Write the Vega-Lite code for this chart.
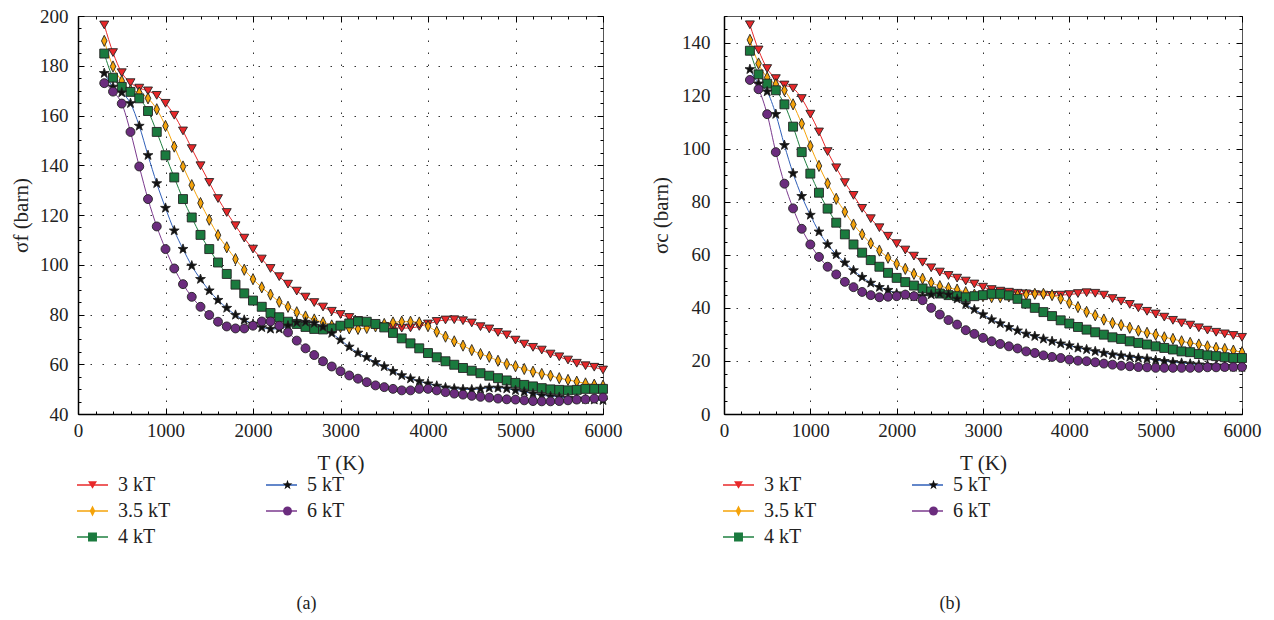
{
"$schema":"https://vega.github.io/schema/vega-lite/v6.json",
"padding":{"left":9,"top":6,"right":20,"bottom":5},
"background":"white",
"config":{"font":"Liberation Serif","view":{"stroke":"#555","strokeWidth":1},
"axis":{"labelFont":"Liberation Serif","titleFont":"Liberation Serif","labelFontSize":19,"titleFontSize":21,"titleFontWeight":"normal","labelColor":"#222","titleColor":"#222","tickColor":"#000","domainColor":"#000","domainWidth":1.5,"labelFlush":false,"labelOverlap":false,"gridColor":"#333","gridDash":[1.5,10.5],"gridWidth":1},
"legend":{"labelFont":"Liberation Serif","labelFontSize":20,"labelColor":"#222"}},
"bounds":"flush",
"spacing":121,
"resolve":{"scale":{"color":"independent","fill":"independent","shape":"independent"}},
"datasets":{
"a":[
{"s":"3 kT","T":300,"v":196.4},{"s":"3 kT","T":400,"v":185.3},{"s":"3 kT","T":500,"v":177.2},{"s":"3 kT","T":600,"v":173.2},{"s":"3 kT","T":700,"v":171},{"s":"3 kT","T":800,"v":169.9},{"s":"3 kT","T":900,"v":168.1},{"s":"3 kT","T":1000,"v":164.9},{"s":"3 kT","T":1100,"v":160.1},{"s":"3 kT","T":1200,"v":153.8},{"s":"3 kT","T":1300,"v":146.7},{"s":"3 kT","T":1400,"v":139.8},{"s":"3 kT","T":1500,"v":133.1},{"s":"3 kT","T":1600,"v":126.6},{"s":"3 kT","T":1700,"v":121},{"s":"3 kT","T":1800,"v":115.7},{"s":"3 kT","T":1900,"v":110.7},{"s":"3 kT","T":2000,"v":106.3},{"s":"3 kT","T":2100,"v":102.3},{"s":"3 kT","T":2200,"v":98.5},{"s":"3 kT","T":2300,"v":95.2},{"s":"3 kT","T":2400,"v":92.2},{"s":"3 kT","T":2500,"v":89.4},{"s":"3 kT","T":2600,"v":87},{"s":"3 kT","T":2700,"v":84.8},{"s":"3 kT","T":2800,"v":83},{"s":"3 kT","T":2900,"v":81.3},{"s":"3 kT","T":3000,"v":80},{"s":"3 kT","T":3100,"v":78.8},{"s":"3 kT","T":3200,"v":77.6},{"s":"3 kT","T":3300,"v":76.6},{"s":"3 kT","T":3400,"v":75.8},{"s":"3 kT","T":3500,"v":75.2},{"s":"3 kT","T":3600,"v":74.8},{"s":"3 kT","T":3700,"v":74.5},{"s":"3 kT","T":3800,"v":74.6},{"s":"3 kT","T":3900,"v":75.2},{"s":"3 kT","T":4000,"v":76.2},{"s":"3 kT","T":4100,"v":77.2},{"s":"3 kT","T":4200,"v":77.8},{"s":"3 kT","T":4300,"v":77.9},{"s":"3 kT","T":4400,"v":77.5},{"s":"3 kT","T":4500,"v":76.6},{"s":"3 kT","T":4600,"v":75.1},{"s":"3 kT","T":4700,"v":74.2},{"s":"3 kT","T":4800,"v":72.8},{"s":"3 kT","T":4900,"v":71.8},{"s":"3 kT","T":5000,"v":69.7},{"s":"3 kT","T":5100,"v":68.1},{"s":"3 kT","T":5200,"v":66.8},{"s":"3 kT","T":5300,"v":65.7},{"s":"3 kT","T":5400,"v":64.1},{"s":"3 kT","T":5500,"v":63},{"s":"3 kT","T":5600,"v":61.7},{"s":"3 kT","T":5700,"v":60.4},{"s":"3 kT","T":5800,"v":59.4},{"s":"3 kT","T":5900,"v":58.8},{"s":"3 kT","T":6000,"v":57.7},
{"s":"3.5 kT","T":300,"v":190},{"s":"3.5 kT","T":400,"v":179.7},{"s":"3.5 kT","T":500,"v":173.9},{"s":"3.5 kT","T":600,"v":170.1},{"s":"3.5 kT","T":700,"v":169.2},{"s":"3.5 kT","T":800,"v":166.9},{"s":"3.5 kT","T":900,"v":162.5},{"s":"3.5 kT","T":1000,"v":155.8},{"s":"3.5 kT","T":1100,"v":147.5},{"s":"3.5 kT","T":1200,"v":139.5},{"s":"3.5 kT","T":1300,"v":132},{"s":"3.5 kT","T":1400,"v":124.8},{"s":"3.5 kT","T":1500,"v":118.1},{"s":"3.5 kT","T":1600,"v":111.9},{"s":"3.5 kT","T":1700,"v":107},{"s":"3.5 kT","T":1800,"v":102.3},{"s":"3.5 kT","T":1900,"v":98},{"s":"3.5 kT","T":2000,"v":94.2},{"s":"3.5 kT","T":2100,"v":90.9},{"s":"3.5 kT","T":2200,"v":88},{"s":"3.5 kT","T":2300,"v":85.1},{"s":"3.5 kT","T":2400,"v":83.1},{"s":"3.5 kT","T":2500,"v":80.9},{"s":"3.5 kT","T":2600,"v":79.2},{"s":"3.5 kT","T":2700,"v":78},{"s":"3.5 kT","T":2800,"v":76.8},{"s":"3.5 kT","T":2900,"v":75.6},{"s":"3.5 kT","T":3000,"v":74.9},{"s":"3.5 kT","T":3100,"v":74.4},{"s":"3.5 kT","T":3200,"v":74.2},{"s":"3.5 kT","T":3300,"v":74.6},{"s":"3.5 kT","T":3400,"v":75.2},{"s":"3.5 kT","T":3500,"v":76.2},{"s":"3.5 kT","T":3600,"v":76.8},{"s":"3.5 kT","T":3700,"v":77.1},{"s":"3.5 kT","T":3800,"v":77.1},{"s":"3.5 kT","T":3900,"v":76.8},{"s":"3.5 kT","T":4000,"v":75.3},{"s":"3.5 kT","T":4100,"v":73.1},{"s":"3.5 kT","T":4200,"v":71.1},{"s":"3.5 kT","T":4300,"v":69.2},{"s":"3.5 kT","T":4400,"v":67.5},{"s":"3.5 kT","T":4500,"v":65.7},{"s":"3.5 kT","T":4600,"v":64.1},{"s":"3.5 kT","T":4700,"v":63},{"s":"3.5 kT","T":4800,"v":61.4},{"s":"3.5 kT","T":4900,"v":60.1},{"s":"3.5 kT","T":5000,"v":59.2},{"s":"3.5 kT","T":5100,"v":58.1},{"s":"3.5 kT","T":5200,"v":57},{"s":"3.5 kT","T":5300,"v":56.1},{"s":"3.5 kT","T":5400,"v":55.4},{"s":"3.5 kT","T":5500,"v":54.4},{"s":"3.5 kT","T":5600,"v":53.7},{"s":"3.5 kT","T":5700,"v":53},{"s":"3.5 kT","T":5800,"v":52.3},{"s":"3.5 kT","T":5900,"v":51.8},{"s":"3.5 kT","T":6000,"v":51.4},
{"s":"4 kT","T":300,"v":184.9},{"s":"4 kT","T":400,"v":175.2},{"s":"4 kT","T":500,"v":171.5},{"s":"4 kT","T":600,"v":169.5},{"s":"4 kT","T":700,"v":166.9},{"s":"4 kT","T":800,"v":161.8},{"s":"4 kT","T":900,"v":153.4},{"s":"4 kT","T":1000,"v":144},{"s":"4 kT","T":1100,"v":135.1},{"s":"4 kT","T":1200,"v":126.4},{"s":"4 kT","T":1300,"v":119},{"s":"4 kT","T":1400,"v":112},{"s":"4 kT","T":1500,"v":106.3},{"s":"4 kT","T":1600,"v":100.9},{"s":"4 kT","T":1700,"v":96.3},{"s":"4 kT","T":1800,"v":92},{"s":"4 kT","T":1900,"v":88.5},{"s":"4 kT","T":2000,"v":85.6},{"s":"4 kT","T":2100,"v":83.1},{"s":"4 kT","T":2200,"v":80.6},{"s":"4 kT","T":2300,"v":78.9},{"s":"4 kT","T":2400,"v":77.1},{"s":"4 kT","T":2500,"v":76.2},{"s":"4 kT","T":2600,"v":75},{"s":"4 kT","T":2700,"v":74.2},{"s":"4 kT","T":2800,"v":74},{"s":"4 kT","T":2900,"v":74.4},{"s":"4 kT","T":3000,"v":75.5},{"s":"4 kT","T":3100,"v":76.4},{"s":"4 kT","T":3200,"v":77.2},{"s":"4 kT","T":3300,"v":77.1},{"s":"4 kT","T":3400,"v":76.2},{"s":"4 kT","T":3500,"v":74.8},{"s":"4 kT","T":3600,"v":72.6},{"s":"4 kT","T":3700,"v":70.4},{"s":"4 kT","T":3800,"v":68.4},{"s":"4 kT","T":3900,"v":66.4},{"s":"4 kT","T":4000,"v":64.5},{"s":"4 kT","T":4100,"v":62.8},{"s":"4 kT","T":4200,"v":61.2},{"s":"4 kT","T":4300,"v":59.8},{"s":"4 kT","T":4400,"v":58.5},{"s":"4 kT","T":4500,"v":57.4},{"s":"4 kT","T":4600,"v":56.4},{"s":"4 kT","T":4700,"v":55.4},{"s":"4 kT","T":4800,"v":54.4},{"s":"4 kT","T":4900,"v":53.5},{"s":"4 kT","T":5000,"v":52.5},{"s":"4 kT","T":5100,"v":51.7},{"s":"4 kT","T":5200,"v":51.1},{"s":"4 kT","T":5300,"v":50.4},{"s":"4 kT","T":5400,"v":49.9},{"s":"4 kT","T":5500,"v":49.7},{"s":"4 kT","T":5600,"v":49.5},{"s":"4 kT","T":5700,"v":49.7},{"s":"4 kT","T":5800,"v":50.1},{"s":"4 kT","T":5900,"v":50.1},{"s":"4 kT","T":6000,"v":50.1},
{"s":"5 kT","T":300,"v":177},{"s":"5 kT","T":400,"v":171.5},{"s":"5 kT","T":500,"v":169.2},{"s":"5 kT","T":600,"v":164.9},{"s":"5 kT","T":700,"v":155.8},{"s":"5 kT","T":800,"v":144},{"s":"5 kT","T":900,"v":132.7},{"s":"5 kT","T":1000,"v":122.8},{"s":"5 kT","T":1100,"v":113.7},{"s":"5 kT","T":1200,"v":106.3},{"s":"5 kT","T":1300,"v":99.6},{"s":"5 kT","T":1400,"v":94.2},{"s":"5 kT","T":1500,"v":89.6},{"s":"5 kT","T":1600,"v":85.8},{"s":"5 kT","T":1700,"v":82.6},{"s":"5 kT","T":1800,"v":79.8},{"s":"5 kT","T":1900,"v":77.8},{"s":"5 kT","T":2000,"v":76.2},{"s":"5 kT","T":2100,"v":74.8},{"s":"5 kT","T":2200,"v":74.2},{"s":"5 kT","T":2300,"v":74.2},{"s":"5 kT","T":2400,"v":75.5},{"s":"5 kT","T":2500,"v":76.8},{"s":"5 kT","T":2600,"v":77},{"s":"5 kT","T":2700,"v":76.5},{"s":"5 kT","T":2800,"v":75},{"s":"5 kT","T":2900,"v":72.5},{"s":"5 kT","T":3000,"v":69.8},{"s":"5 kT","T":3100,"v":67},{"s":"5 kT","T":3200,"v":64.6},{"s":"5 kT","T":3300,"v":62.8},{"s":"5 kT","T":3400,"v":60.8},{"s":"5 kT","T":3500,"v":59.1},{"s":"5 kT","T":3600,"v":57.2},{"s":"5 kT","T":3700,"v":55.5},{"s":"5 kT","T":3800,"v":54.2},{"s":"5 kT","T":3900,"v":53.1},{"s":"5 kT","T":4000,"v":52.2},{"s":"5 kT","T":4100,"v":51.3},{"s":"5 kT","T":4200,"v":50.6},{"s":"5 kT","T":4300,"v":50.2},{"s":"5 kT","T":4400,"v":49.9},{"s":"5 kT","T":4500,"v":49.8},{"s":"5 kT","T":4600,"v":50.1},{"s":"5 kT","T":4700,"v":50.5},{"s":"5 kT","T":4800,"v":50.5},{"s":"5 kT","T":4900,"v":50.2},{"s":"5 kT","T":5000,"v":49.5},{"s":"5 kT","T":5100,"v":48.9},{"s":"5 kT","T":5200,"v":48.2},{"s":"5 kT","T":5300,"v":47.5},{"s":"5 kT","T":5400,"v":47.1},{"s":"5 kT","T":5500,"v":46.8},{"s":"5 kT","T":5600,"v":46.4},{"s":"5 kT","T":5700,"v":46.1},{"s":"5 kT","T":5800,"v":45.9},{"s":"5 kT","T":5900,"v":45.7},{"s":"5 kT","T":6000,"v":45.5},
{"s":"6 kT","T":300,"v":173},{"s":"6 kT","T":400,"v":169.6},{"s":"6 kT","T":500,"v":164.8},{"s":"6 kT","T":600,"v":153.4},{"s":"6 kT","T":700,"v":139.5},{"s":"6 kT","T":800,"v":126.4},{"s":"6 kT","T":900,"v":115.4},{"s":"6 kT","T":1000,"v":106.3},{"s":"6 kT","T":1100,"v":98.5},{"s":"6 kT","T":1200,"v":92.2},{"s":"6 kT","T":1300,"v":87.1},{"s":"6 kT","T":1400,"v":83.1},{"s":"6 kT","T":1500,"v":79.8},{"s":"6 kT","T":1600,"v":77.1},{"s":"6 kT","T":1700,"v":75.2},{"s":"6 kT","T":1800,"v":74.4},{"s":"6 kT","T":1900,"v":74.4},{"s":"6 kT","T":2000,"v":75.5},{"s":"6 kT","T":2100,"v":77.2},{"s":"6 kT","T":2200,"v":77.2},{"s":"6 kT","T":2300,"v":75.5},{"s":"6 kT","T":2400,"v":72.8},{"s":"6 kT","T":2500,"v":69.5},{"s":"6 kT","T":2600,"v":66.4},{"s":"6 kT","T":2700,"v":63.7},{"s":"6 kT","T":2800,"v":61.2},{"s":"6 kT","T":2900,"v":59.1},{"s":"6 kT","T":3000,"v":57.2},{"s":"6 kT","T":3100,"v":55.5},{"s":"6 kT","T":3200,"v":54.2},{"s":"6 kT","T":3300,"v":52.8},{"s":"6 kT","T":3400,"v":51.5},{"s":"6 kT","T":3500,"v":50.8},{"s":"6 kT","T":3600,"v":50.1},{"s":"6 kT","T":3700,"v":49.5},{"s":"6 kT","T":3800,"v":49.5},{"s":"6 kT","T":3900,"v":50.1},{"s":"6 kT","T":4000,"v":50.1},{"s":"6 kT","T":4100,"v":49.5},{"s":"6 kT","T":4200,"v":48.8},{"s":"6 kT","T":4300,"v":48.2},{"s":"6 kT","T":4400,"v":47.8},{"s":"6 kT","T":4500,"v":47.3},{"s":"6 kT","T":4600,"v":46.9},{"s":"6 kT","T":4700,"v":46.6},{"s":"6 kT","T":4800,"v":46.2},{"s":"6 kT","T":4900,"v":45.9},{"s":"6 kT","T":5000,"v":45.8},{"s":"6 kT","T":5100,"v":45.5},{"s":"6 kT","T":5200,"v":45.2},{"s":"6 kT","T":5300,"v":45.1},{"s":"6 kT","T":5400,"v":45.1},{"s":"6 kT","T":5500,"v":45.2},{"s":"6 kT","T":5600,"v":45.5},{"s":"6 kT","T":5700,"v":45.8},{"s":"6 kT","T":5800,"v":45.9},{"s":"6 kT","T":5900,"v":46.2},{"s":"6 kT","T":6000,"v":46.6}
],
"b":[
{"s":"3 kT","T":300,"v":146.7},{"s":"3 kT","T":400,"v":137.2},{"s":"3 kT","T":500,"v":130.2},{"s":"3 kT","T":600,"v":126.4},{"s":"3 kT","T":700,"v":124},{"s":"3 kT","T":800,"v":122.8},{"s":"3 kT","T":900,"v":118.9},{"s":"3 kT","T":1000,"v":113},{"s":"3 kT","T":1100,"v":106.3},{"s":"3 kT","T":1200,"v":98.9},{"s":"3 kT","T":1300,"v":92.8},{"s":"3 kT","T":1400,"v":87.2},{"s":"3 kT","T":1500,"v":82.4},{"s":"3 kT","T":1600,"v":77.5},{"s":"3 kT","T":1700,"v":73.6},{"s":"3 kT","T":1800,"v":70.2},{"s":"3 kT","T":1900,"v":67},{"s":"3 kT","T":2000,"v":64.2},{"s":"3 kT","T":2100,"v":61.8},{"s":"3 kT","T":2200,"v":59.5},{"s":"3 kT","T":2300,"v":57.2},{"s":"3 kT","T":2400,"v":55.1},{"s":"3 kT","T":2500,"v":53.5},{"s":"3 kT","T":2600,"v":52.2},{"s":"3 kT","T":2700,"v":51.2},{"s":"3 kT","T":2800,"v":50.1},{"s":"3 kT","T":2900,"v":49},{"s":"3 kT","T":3000,"v":47.8},{"s":"3 kT","T":3100,"v":46.9},{"s":"3 kT","T":3200,"v":46.3},{"s":"3 kT","T":3300,"v":45.9},{"s":"3 kT","T":3400,"v":45.5},{"s":"3 kT","T":3500,"v":45.3},{"s":"3 kT","T":3600,"v":45},{"s":"3 kT","T":3700,"v":44.8},{"s":"3 kT","T":3800,"v":44.7},{"s":"3 kT","T":3900,"v":44.8},{"s":"3 kT","T":4000,"v":45},{"s":"3 kT","T":4100,"v":45.4},{"s":"3 kT","T":4200,"v":45.7},{"s":"3 kT","T":4300,"v":45.5},{"s":"3 kT","T":4400,"v":44.8},{"s":"3 kT","T":4500,"v":43.5},{"s":"3 kT","T":4600,"v":42.5},{"s":"3 kT","T":4700,"v":41.3},{"s":"3 kT","T":4800,"v":40},{"s":"3 kT","T":4900,"v":38.7},{"s":"3 kT","T":5000,"v":37.7},{"s":"3 kT","T":5100,"v":36.5},{"s":"3 kT","T":5200,"v":35.3},{"s":"3 kT","T":5300,"v":34.3},{"s":"3 kT","T":5400,"v":33.5},{"s":"3 kT","T":5500,"v":32.5},{"s":"3 kT","T":5600,"v":31.6},{"s":"3 kT","T":5700,"v":30.8},{"s":"3 kT","T":5800,"v":30.2},{"s":"3 kT","T":5900,"v":29.6},{"s":"3 kT","T":6000,"v":28.9},
{"s":"3.5 kT","T":300,"v":141},{"s":"3.5 kT","T":400,"v":132.1},{"s":"3.5 kT","T":500,"v":126.8},{"s":"3.5 kT","T":600,"v":124.3},{"s":"3.5 kT","T":700,"v":122},{"s":"3.5 kT","T":800,"v":116.7},{"s":"3.5 kT","T":900,"v":109.4},{"s":"3.5 kT","T":1000,"v":101},{"s":"3.5 kT","T":1100,"v":93.5},{"s":"3.5 kT","T":1200,"v":86.9},{"s":"3.5 kT","T":1300,"v":81.1},{"s":"3.5 kT","T":1400,"v":76.2},{"s":"3.5 kT","T":1500,"v":71.4},{"s":"3.5 kT","T":1600,"v":67.7},{"s":"3.5 kT","T":1700,"v":64.3},{"s":"3.5 kT","T":1800,"v":61.6},{"s":"3.5 kT","T":1900,"v":58.9},{"s":"3.5 kT","T":2000,"v":56.6},{"s":"3.5 kT","T":2100,"v":54.7},{"s":"3.5 kT","T":2200,"v":52.8},{"s":"3.5 kT","T":2300,"v":51},{"s":"3.5 kT","T":2400,"v":49.5},{"s":"3.5 kT","T":2500,"v":48.2},{"s":"3.5 kT","T":2600,"v":47.5},{"s":"3.5 kT","T":2700,"v":46.9},{"s":"3.5 kT","T":2800,"v":45.9},{"s":"3.5 kT","T":2900,"v":45},{"s":"3.5 kT","T":3000,"v":44.4},{"s":"3.5 kT","T":3100,"v":44},{"s":"3.5 kT","T":3200,"v":44},{"s":"3.5 kT","T":3300,"v":44.3},{"s":"3.5 kT","T":3400,"v":44.8},{"s":"3.5 kT","T":3500,"v":45},{"s":"3.5 kT","T":3600,"v":45.3},{"s":"3.5 kT","T":3700,"v":45.3},{"s":"3.5 kT","T":3800,"v":44.8},{"s":"3.5 kT","T":3900,"v":43.5},{"s":"3.5 kT","T":4000,"v":41.9},{"s":"3.5 kT","T":4100,"v":40.3},{"s":"3.5 kT","T":4200,"v":38.5},{"s":"3.5 kT","T":4300,"v":37.2},{"s":"3.5 kT","T":4400,"v":35.6},{"s":"3.5 kT","T":4500,"v":34.3},{"s":"3.5 kT","T":4600,"v":33.5},{"s":"3.5 kT","T":4700,"v":32.5},{"s":"3.5 kT","T":4800,"v":31.4},{"s":"3.5 kT","T":4900,"v":30.6},{"s":"3.5 kT","T":5000,"v":29.9},{"s":"3.5 kT","T":5100,"v":28.9},{"s":"3.5 kT","T":5200,"v":28.3},{"s":"3.5 kT","T":5300,"v":27.4},{"s":"3.5 kT","T":5400,"v":26.8},{"s":"3.5 kT","T":5500,"v":26.2},{"s":"3.5 kT","T":5600,"v":25.5},{"s":"3.5 kT","T":5700,"v":24.9},{"s":"3.5 kT","T":5800,"v":24.5},{"s":"3.5 kT","T":5900,"v":23.9},{"s":"3.5 kT","T":6000,"v":23.3},
{"s":"4 kT","T":300,"v":136.9},{"s":"4 kT","T":400,"v":128},{"s":"4 kT","T":500,"v":124.5},{"s":"4 kT","T":600,"v":122},{"s":"4 kT","T":700,"v":116.7},{"s":"4 kT","T":800,"v":108.3},{"s":"4 kT","T":900,"v":98.7},{"s":"4 kT","T":1000,"v":90.6},{"s":"4 kT","T":1100,"v":83.4},{"s":"4 kT","T":1200,"v":77.4},{"s":"4 kT","T":1300,"v":72.1},{"s":"4 kT","T":1400,"v":67.7},{"s":"4 kT","T":1500,"v":63.9},{"s":"4 kT","T":1600,"v":60.8},{"s":"4 kT","T":1700,"v":58},{"s":"4 kT","T":1800,"v":55.5},{"s":"4 kT","T":1900,"v":53.2},{"s":"4 kT","T":2000,"v":51.3},{"s":"4 kT","T":2100,"v":49.7},{"s":"4 kT","T":2200,"v":48.4},{"s":"4 kT","T":2300,"v":47.3},{"s":"4 kT","T":2400,"v":46.2},{"s":"4 kT","T":2500,"v":45.4},{"s":"4 kT","T":2600,"v":44.8},{"s":"4 kT","T":2700,"v":44.4},{"s":"4 kT","T":2800,"v":44},{"s":"4 kT","T":2900,"v":44.4},{"s":"4 kT","T":3000,"v":44.8},{"s":"4 kT","T":3100,"v":45.3},{"s":"4 kT","T":3200,"v":45.3},{"s":"4 kT","T":3300,"v":44.7},{"s":"4 kT","T":3400,"v":43.4},{"s":"4 kT","T":3500,"v":41.6},{"s":"4 kT","T":3600,"v":40},{"s":"4 kT","T":3700,"v":38.4},{"s":"4 kT","T":3800,"v":36.9},{"s":"4 kT","T":3900,"v":35.3},{"s":"4 kT","T":4000,"v":34.1},{"s":"4 kT","T":4100,"v":32.8},{"s":"4 kT","T":4200,"v":31.8},{"s":"4 kT","T":4300,"v":30.8},{"s":"4 kT","T":4400,"v":29.9},{"s":"4 kT","T":4500,"v":28.9},{"s":"4 kT","T":4600,"v":28.3},{"s":"4 kT","T":4700,"v":27.4},{"s":"4 kT","T":4800,"v":26.8},{"s":"4 kT","T":4900,"v":26.2},{"s":"4 kT","T":5000,"v":25.5},{"s":"4 kT","T":5100,"v":24.9},{"s":"4 kT","T":5200,"v":24.3},{"s":"4 kT","T":5300,"v":23.6},{"s":"4 kT","T":5400,"v":23.3},{"s":"4 kT","T":5500,"v":22.6},{"s":"4 kT","T":5600,"v":22.1},{"s":"4 kT","T":5700,"v":21.8},{"s":"4 kT","T":5800,"v":21.4},{"s":"4 kT","T":5900,"v":21.1},{"s":"4 kT","T":6000,"v":21.1},
{"s":"5 kT","T":300,"v":129.9},{"s":"5 kT","T":400,"v":124.5},{"s":"5 kT","T":500,"v":121.5},{"s":"5 kT","T":600,"v":113},{"s":"5 kT","T":700,"v":101.3},{"s":"5 kT","T":800,"v":90.7},{"s":"5 kT","T":900,"v":82.1},{"s":"5 kT","T":1000,"v":75},{"s":"5 kT","T":1100,"v":68.7},{"s":"5 kT","T":1200,"v":63.9},{"s":"5 kT","T":1300,"v":60.1},{"s":"5 kT","T":1400,"v":57},{"s":"5 kT","T":1500,"v":54.1},{"s":"5 kT","T":1600,"v":51.6},{"s":"5 kT","T":1700,"v":49.4},{"s":"5 kT","T":1800,"v":47.8},{"s":"5 kT","T":1900,"v":46.7},{"s":"5 kT","T":2000,"v":45.4},{"s":"5 kT","T":2100,"v":44.7},{"s":"5 kT","T":2200,"v":44.2},{"s":"5 kT","T":2300,"v":44.4},{"s":"5 kT","T":2400,"v":45},{"s":"5 kT","T":2500,"v":45.3},{"s":"5 kT","T":2600,"v":45},{"s":"5 kT","T":2700,"v":43.4},{"s":"5 kT","T":2800,"v":41.3},{"s":"5 kT","T":2900,"v":39.4},{"s":"5 kT","T":3000,"v":37.5},{"s":"5 kT","T":3100,"v":35.6},{"s":"5 kT","T":3200,"v":34.1},{"s":"5 kT","T":3300,"v":32.7},{"s":"5 kT","T":3400,"v":31.4},{"s":"5 kT","T":3500,"v":30.2},{"s":"5 kT","T":3600,"v":29.3},{"s":"5 kT","T":3700,"v":28.3},{"s":"5 kT","T":3800,"v":27.4},{"s":"5 kT","T":3900,"v":26.5},{"s":"5 kT","T":4000,"v":25.8},{"s":"5 kT","T":4100,"v":24.9},{"s":"5 kT","T":4200,"v":24.3},{"s":"5 kT","T":4300,"v":23.6},{"s":"5 kT","T":4400,"v":23},{"s":"5 kT","T":4500,"v":22.4},{"s":"5 kT","T":4600,"v":22},{"s":"5 kT","T":4700,"v":21.5},{"s":"5 kT","T":4800,"v":21.1},{"s":"5 kT","T":4900,"v":20.8},{"s":"5 kT","T":5000,"v":20.3},{"s":"5 kT","T":5100,"v":19.9},{"s":"5 kT","T":5200,"v":19.5},{"s":"5 kT","T":5300,"v":19.2},{"s":"5 kT","T":5400,"v":18.9},{"s":"5 kT","T":5500,"v":18.6},{"s":"5 kT","T":5600,"v":18.4},{"s":"5 kT","T":5700,"v":18.2},{"s":"5 kT","T":5800,"v":18},{"s":"5 kT","T":5900,"v":17.7},{"s":"5 kT","T":6000,"v":17.6},
{"s":"6 kT","T":300,"v":125.9},{"s":"6 kT","T":400,"v":122.4},{"s":"6 kT","T":500,"v":113},{"s":"6 kT","T":600,"v":98.7},{"s":"6 kT","T":700,"v":86.8},{"s":"6 kT","T":800,"v":77.5},{"s":"6 kT","T":900,"v":69.8},{"s":"6 kT","T":1000,"v":63.9},{"s":"6 kT","T":1100,"v":59.2},{"s":"6 kT","T":1200,"v":55.5},{"s":"6 kT","T":1300,"v":52.6},{"s":"6 kT","T":1400,"v":49.8},{"s":"6 kT","T":1500,"v":47.8},{"s":"6 kT","T":1600,"v":46},{"s":"6 kT","T":1700,"v":44.8},{"s":"6 kT","T":1800,"v":44},{"s":"6 kT","T":1900,"v":44.2},{"s":"6 kT","T":2000,"v":44.4},{"s":"6 kT","T":2100,"v":45},{"s":"6 kT","T":2200,"v":44.4},{"s":"6 kT","T":2300,"v":42.9},{"s":"6 kT","T":2400,"v":40},{"s":"6 kT","T":2500,"v":37.5},{"s":"6 kT","T":2600,"v":35.4},{"s":"6 kT","T":2700,"v":33.7},{"s":"6 kT","T":2800,"v":31.6},{"s":"6 kT","T":2900,"v":30.2},{"s":"6 kT","T":3000,"v":28.7},{"s":"6 kT","T":3100,"v":27.4},{"s":"6 kT","T":3200,"v":26.4},{"s":"6 kT","T":3300,"v":25.5},{"s":"6 kT","T":3400,"v":24.7},{"s":"6 kT","T":3500,"v":23.6},{"s":"6 kT","T":3600,"v":23},{"s":"6 kT","T":3700,"v":22.1},{"s":"6 kT","T":3800,"v":21.5},{"s":"6 kT","T":3900,"v":21.1},{"s":"6 kT","T":4000,"v":20.5},{"s":"6 kT","T":4100,"v":20.1},{"s":"6 kT","T":4200,"v":19.9},{"s":"6 kT","T":4300,"v":19.5},{"s":"6 kT","T":4400,"v":19},{"s":"6 kT","T":4500,"v":18.6},{"s":"6 kT","T":4600,"v":18.2},{"s":"6 kT","T":4700,"v":18},{"s":"6 kT","T":4800,"v":17.7},{"s":"6 kT","T":4900,"v":17.6},{"s":"6 kT","T":5000,"v":17.4},{"s":"6 kT","T":5100,"v":17.4},{"s":"6 kT","T":5200,"v":17.4},{"s":"6 kT","T":5300,"v":17.4},{"s":"6 kT","T":5400,"v":17.4},{"s":"6 kT","T":5500,"v":17.4},{"s":"6 kT","T":5600,"v":17.6},{"s":"6 kT","T":5700,"v":17.6},{"s":"6 kT","T":5800,"v":17.7},{"s":"6 kT","T":5900,"v":17.7},{"s":"6 kT","T":6000,"v":17.7}
]},
"hconcat":[
{"width":525,"height":398,"data":{"name":"a"},
"title":{"text":"(a)","orient":"bottom","anchor":"middle","frame":"group","dx":-34,"offset":48,"fontSize":18,"fontWeight":"normal","font":"Liberation Serif","color":"#222"},
"layer":[
{"mark":{"type":"line","strokeWidth":1,"interpolate":"monotone"},
"encoding":{
"x":{"field":"T","type":"quantitative","scale":{"domain":[0,6000],"nice":false},"axis":{"orient":"bottom","values":[0,200,400,600,800,1000,1200,1400,1600,1800,2000,2200,2400,2600,2800,3000,3200,3400,3600,3800,4000,4200,4400,4600,4800,5000,5200,5400,5600,5800,6000],"format":"d","labelExpr":"datum.value % 1000 === 0 ? datum.label : ''","tickSize":{"condition":{"test":"datum.value % 1000 === 0","value":-6},"value":-3},"grid":true,"gridOpacity":{"condition":{"test":"datum.value % 1000 === 0 && datum.value > 0 && datum.value < 6000","value":1},"value":0},"labelPadding":13,"title":"T (K)","titlePadding":9}},
"y":{"field":"v","type":"quantitative","scale":{"domain":[40,200],"nice":false,"zero":false},"axis":{"orient":"left","values":[40,45,50,55,60,65,70,75,80,85,90,95,100,105,110,115,120,125,130,135,140,145,150,155,160,165,170,175,180,185,190,195,200],"format":"d","labelExpr":"datum.value % 20 === 0 ? datum.label : ''","tickSize":{"condition":{"test":"datum.value % 20 === 0","value":-6},"value":-3},"grid":true,"gridOpacity":{"condition":{"test":"datum.value % 20 === 0 && datum.value > 40 && datum.value < 200","value":1},"value":0},"labelPadding":16,"title":"σf (barn)","titleX":-57,"titleY":199,"titleAngle":-90,"titleBaseline":"middle","titleAlign":"center"}},
"color":{"field":"s","type":"nominal","scale":{"range":["#e8282a","#f5a30a","#1f8040","#2f5fb8","#7b3a8e"]},"legend":{"title":null,"orient":"none","legendX":-2,"legendY":459,"columns":2,"columnPadding":94,"rowPadding":6,"clipHeight":20,"labelOffset":9,"symbolType":"stroke","symbolSize":961,"symbolStrokeWidth":1.5,"padding":0}}}},
{"mark":{"type":"point","filled":true,"size":80,"stroke":"#222","strokeWidth":0.9,"opacity":1},
"encoding":{
"x":{"field":"T","type":"quantitative","axis":{"orient":"top","values":[0,200,400,600,800,1000,1200,1400,1600,1800,2000,2200,2400,2600,2800,3000,3200,3400,3600,3800,4000,4200,4400,4600,4800,5000,5200,5400,5600,5800,6000],"labels":false,"domain":false,"grid":false,"title":null,"tickSize":{"condition":{"test":"datum.value % 1000 === 0","value":-6},"value":-3}}},
"y":{"field":"v","type":"quantitative","axis":{"orient":"right","values":[40,45,50,55,60,65,70,75,80,85,90,95,100,105,110,115,120,125,130,135,140,145,150,155,160,165,170,175,180,185,190,195,200],"labels":false,"domain":false,"grid":false,"title":null,"tickSize":{"condition":{"test":"datum.value % 20 === 0","value":-6},"value":-3}}},
"fill":{"field":"s","type":"nominal","scale":{"domain":["3 kT","3.5 kT","4 kT","5 kT","6 kT"],"range":["#e8282a","#f5a30a","#1a7a3e","#111111","#6b2c7e"]},"legend":{"title":null,"orient":"none","legendX":4.5,"legendY":459,"columns":2,"columnPadding":175,"rowPadding":6,"clipHeight":20,"labelOffset":0,"labelExpr":"''","symbolSize":80,"symbolStrokeColor":"#222","symbolStrokeWidth":0.9,"symbolOpacity":1,"padding":0}},
"shape":{"field":"s","type":"nominal","scale":{"domain":["3 kT","3.5 kT","4 kT","5 kT","6 kT"],"range":["triangle-down","M0,-1.25L0.62,0L0,1.25L-0.62,0Z","square","M0,-1.15L0.27,-0.372L1.094,-0.355L0.437,0.142L0.676,0.93L0,0.46L-0.676,0.93L-0.437,0.142L-1.094,-0.355L-0.27,-0.372Z","circle"]},"legend":{"title":null,"orient":"none","legendX":4.5,"legendY":459,"columns":2,"columnPadding":175,"rowPadding":6,"clipHeight":20,"labelOffset":0,"labelExpr":"''","symbolSize":80,"symbolStrokeColor":"#222","symbolStrokeWidth":0.9,"symbolOpacity":1,"padding":0}}}}
],
"resolve":{"axis":{"x":"independent","y":"independent"}}},
{"width":518,"height":398,"data":{"name":"b"},
"title":{"text":"(b)","orient":"bottom","anchor":"middle","frame":"group","dx":-33,"offset":48,"fontSize":18,"fontWeight":"normal","font":"Liberation Serif","color":"#222"},
"layer":[
{"mark":{"type":"line","strokeWidth":1,"interpolate":"monotone"},
"encoding":{
"x":{"field":"T","type":"quantitative","scale":{"domain":[0,6000],"nice":false},"axis":{"orient":"bottom","values":[0,200,400,600,800,1000,1200,1400,1600,1800,2000,2200,2400,2600,2800,3000,3200,3400,3600,3800,4000,4200,4400,4600,4800,5000,5200,5400,5600,5800,6000],"format":"d","labelExpr":"datum.value % 1000 === 0 ? datum.label : ''","tickSize":{"condition":{"test":"datum.value % 1000 === 0","value":-6},"value":-3},"grid":true,"gridOpacity":{"condition":{"test":"datum.value % 1000 === 0 && datum.value > 0 && datum.value < 6000","value":1},"value":0},"labelPadding":13,"title":"T (K)","titlePadding":9}},
"y":{"field":"v","type":"quantitative","scale":{"domain":[0,150],"nice":false,"zero":true},"axis":{"orient":"left","values":[0,5,10,15,20,25,30,35,40,45,50,55,60,65,70,75,80,85,90,95,100,105,110,115,120,125,130,135,140,145,150],"format":"d","labelExpr":"datum.value % 20 === 0 ? datum.label : ''","tickSize":{"condition":{"test":"datum.value % 20 === 0","value":-6},"value":-3},"grid":true,"gridOpacity":{"condition":{"test":"datum.value % 20 === 0 && datum.value > 0","value":1},"value":0},"labelPadding":20,"title":"σc (barn)","titleX":-63,"titleY":199,"titleAngle":-90,"titleBaseline":"middle","titleAlign":"center"}},
"color":{"field":"s","type":"nominal","scale":{"range":["#e8282a","#f5a30a","#1f8040","#2f5fb8","#7b3a8e"]},"legend":{"title":null,"orient":"none","legendX":-2,"legendY":459,"columns":2,"columnPadding":94,"rowPadding":6,"clipHeight":20,"labelOffset":9,"symbolType":"stroke","symbolSize":961,"symbolStrokeWidth":1.5,"padding":0}}}},
{"mark":{"type":"point","filled":true,"size":80,"stroke":"#222","strokeWidth":0.9,"opacity":1},
"encoding":{
"x":{"field":"T","type":"quantitative","axis":{"orient":"top","values":[0,200,400,600,800,1000,1200,1400,1600,1800,2000,2200,2400,2600,2800,3000,3200,3400,3600,3800,4000,4200,4400,4600,4800,5000,5200,5400,5600,5800,6000],"labels":false,"domain":false,"grid":false,"title":null,"tickSize":{"condition":{"test":"datum.value % 1000 === 0","value":-6},"value":-3}}},
"y":{"field":"v","type":"quantitative","axis":{"orient":"right","values":[0,5,10,15,20,25,30,35,40,45,50,55,60,65,70,75,80,85,90,95,100,105,110,115,120,125,130,135,140,145,150],"labels":false,"domain":false,"grid":false,"title":null,"tickSize":{"condition":{"test":"datum.value % 20 === 0","value":-6},"value":-3}}},
"fill":{"field":"s","type":"nominal","scale":{"domain":["3 kT","3.5 kT","4 kT","5 kT","6 kT"],"range":["#e8282a","#f5a30a","#1a7a3e","#111111","#6b2c7e"]},"legend":{"title":null,"orient":"none","legendX":4.5,"legendY":459,"columns":2,"columnPadding":175,"rowPadding":6,"clipHeight":20,"labelOffset":0,"labelExpr":"''","symbolSize":80,"symbolStrokeColor":"#222","symbolStrokeWidth":0.9,"symbolOpacity":1,"padding":0}},
"shape":{"field":"s","type":"nominal","scale":{"domain":["3 kT","3.5 kT","4 kT","5 kT","6 kT"],"range":["triangle-down","M0,-1.25L0.62,0L0,1.25L-0.62,0Z","square","M0,-1.15L0.27,-0.372L1.094,-0.355L0.437,0.142L0.676,0.93L0,0.46L-0.676,0.93L-0.437,0.142L-1.094,-0.355L-0.27,-0.372Z","circle"]},"legend":{"title":null,"orient":"none","legendX":4.5,"legendY":459,"columns":2,"columnPadding":175,"rowPadding":6,"clipHeight":20,"labelOffset":0,"labelExpr":"''","symbolSize":80,"symbolStrokeColor":"#222","symbolStrokeWidth":0.9,"symbolOpacity":1,"padding":0}}}}
],
"resolve":{"axis":{"x":"independent","y":"independent"}}}
]
}
